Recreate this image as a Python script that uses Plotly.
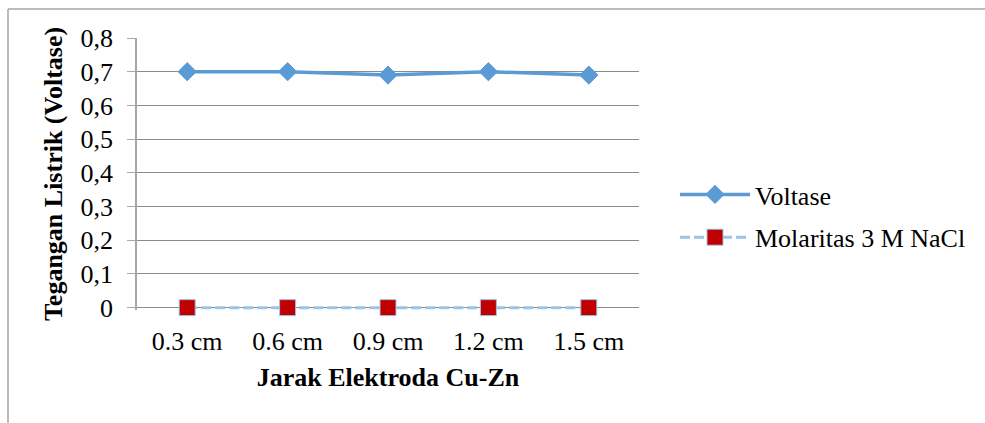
import plotly.graph_objects as go

# Electrode spacing categories and measured values
jarak = ["0.3 cm", "0.6 cm", "0.9 cm", "1.2 cm", "1.5 cm"]
voltase = [0.70, 0.70, 0.69, 0.70, 0.69]
molaritas_nacl = [0, 0, 0, 0, 0]
y_ticks = [0, 0.1, 0.2, 0.3, 0.4, 0.5, 0.6, 0.7, 0.8]
y_labels = ["0", "0,1", "0,2", "0,3", "0,4", "0,5", "0,6", "0,7", "0,8"]

W, H = 985, 423
L, R, T, B = 137, 346, 38, 113
serif = "Liberation Serif"
grid = "#8C8C8C"
fs = 26

fig = go.Figure()
fig.add_trace(go.Scatter(
    x=jarak, y=voltase, name="Voltase", mode="lines+markers",
    legendgroup="a", cliponaxis=False,
    line=dict(color="#5B9BD5", width=3.5),
    marker=dict(symbol="diamond", size=14, color="#5B9BD5",
                line=dict(color="#5B9BD5", width=1)),
))
fig.add_trace(go.Scatter(
    x=jarak, y=molaritas_nacl, name="Molaritas 3 M NaCl", mode="lines+markers",
    legendgroup="b", cliponaxis=False,
    line=dict(color="#9DC3E6", width=3, dash="10px,4px"),
    marker=dict(symbol="square", size=16, color="#C00000",
                line=dict(color="#9DC3E6", width=1)),
))

# outer chart frame (top and left edges)
pw, ph = W - L - R, H - T - B
x0 = (8 - L) / pw
x1 = (W + 5 - L) / pw
y0 = (H - B - (H + 5)) / ph
y1 = (H - B - 9) / ph
fig.add_shape(type="line", xref="paper", yref="paper", x0=x0, x1=x1, y0=y1, y1=y1,
              line=dict(color="#A6A6A6", width=1.5))
fig.add_shape(type="line", xref="paper", yref="paper", x0=x0, x1=x0, y0=y0, y1=y1,
              line=dict(color="#A6A6A6", width=1.5))

fig.update_layout(
    width=W, height=H,
    margin=dict(l=L, r=R, t=T, b=B),
    paper_bgcolor="white", plot_bgcolor="white",
    font=dict(family=serif, size=fs, color="#000000"),
    showlegend=True,
    legend=dict(x=(675 - L) / pw, y=(H - B - 171) / ph, xanchor="left", yanchor="top",
                font=dict(family=serif, size=fs, color="#000000"),
                traceorder="grouped", tracegroupgap=6, itemwidth=70,
                bgcolor="rgba(0,0,0,0)"),
    xaxis=dict(
        type="category", range=[-0.5, 4.5],
        showgrid=False, showline=False, zeroline=False,
        ticks="", ticklabelstandoff=13,
        tickfont=dict(family=serif, size=fs, color="#000000"),
        title=dict(text="<b>Jarak Elektroda Cu-Zn</b>",
                   font=dict(family=serif, size=fs, color="#000000"), standoff=12),
    ),
    yaxis=dict(
        range=[-0.007, 0.8], tickvals=y_ticks, ticktext=y_labels,
        showgrid=True, gridcolor=grid, gridwidth=1,
        zeroline=True, zerolinecolor=grid, zerolinewidth=1,
        showline=True, linecolor="#A6A6A6", linewidth=1.5,
        ticks="outside", ticklen=8, tickcolor="#A6A6A6", tickwidth=1,
        ticklabelstandoff=9,
        tickfont=dict(family=serif, size=fs, color="#000000"),
        title=dict(text="<b>Tegangan Listrik (Voltase)</b>",
                   font=dict(family=serif, size=fs, color="#000000"), standoff=10),
    ),
)

fig.write_html("out.html")
